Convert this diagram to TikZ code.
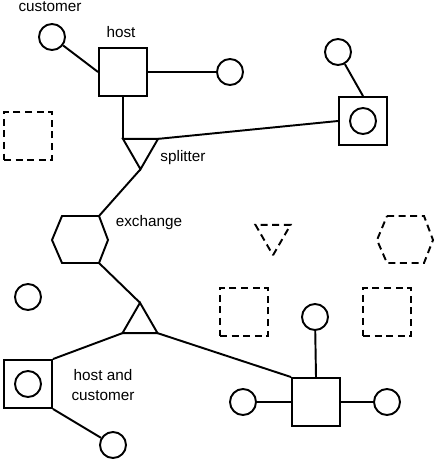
\documentclass[tikz,border=0pt]{standalone}
\usepackage{fontspec}
\setmainfont{Liberation Sans}
\usetikzlibrary{shapes.geometric}

\begin{document}
\begin{tikzpicture}[x=0.02cm, y=-0.02cm, line width=1.1pt,
  endpoint/.style={draw, circle, minimum size=0.52cm, inner sep=0pt},
  hostbox/.style={draw, rectangle, minimum size=0.96cm, inner sep=0pt},
  splitbox/.style={draw, regular polygon, regular polygon sides=3, minimum size=0.81cm, inner sep=0pt, outer sep=0pt},
  spare/.style={dash pattern=on 4pt off 2.6pt},
  lbl/.style={font=\fontsize{8.7}{11.3}\selectfont, align=center}
]
  \useasboundingbox (0,0) rectangle (438,462);

  % top host
  \node[hostbox] (host) at (123,72) {};
  \node[endpoint] (c1) at (52,37) {};
  \node[endpoint] (c2) at (230,72) {};
  \node[lbl] (lcust) at (50,7) {customer};
  \node[lbl] (lhost) at (121,32) {host};

  % host with customer on the right
  \node[hostbox] (hc1) at (363,121) {};
  \node[endpoint] (c3) at (363,121) {};
  \node[endpoint] (c4) at (338,52) {};

  % splitter
  \node[splitbox, shape border rotate=180] (split1) at (140.5,149) {};
  \node[lbl] (lsplit) at (183,158) {splitter};

  % exchange
  \coordinate (ex1) at (62,216);
  \coordinate (ex2) at (99,216);
  \coordinate (ex3) at (108,240);
  \coordinate (ex4) at (99,263);
  \coordinate (ex5) at (62,263);
  \coordinate (ex6) at (52,240);
  \draw (ex1) -- (ex2) -- (ex3) -- (ex4) -- (ex5) -- (ex6) -- cycle;
  \node[lbl] (lexch) at (149,223) {exchange};

  % lower splitter
  \node[splitbox] (split2) at (140,323) {};

  % host and customer (bottom left)
  \node[hostbox] (hc2) at (28,384) {};
  \node[endpoint] (c5) at (28,384) {};
  \node[endpoint] (c6) at (113,445) {};
  \node[endpoint] (c7) at (28,297) {};
  \node[lbl] (lhc) at (103,385) {host and\\customer};

  % bottom right host
  \node[hostbox] (host2) at (316,402) {};
  \node[endpoint] (c8) at (315,317) {};
  \node[endpoint] (c9) at (243,402) {};
  \node[endpoint] (c10) at (387,402) {};

  % unused places
  \node[hostbox, spare] (sp1) at (28,136) {};
  \node[hostbox, spare] (sp2) at (244,312) {};
  \node[hostbox, spare] (sp3) at (387,312) {};
  \node[splitbox, spare, shape border rotate=180] (sp4) at (273,235) {};
  \draw[spare] (387,216) -- (424,216) -- (433,240) -- (424,263) -- (387,263) -- (377,240) -- cycle;

  % links
  \draw (c1) -- (host.west);
  \draw (host.east) -- (c2);
  \draw (host.south) -- (host.south |- split1.corner 3);
  \draw (split1.corner 2) -- (hc1.west);
  \draw (c4) -- (hc1.north);
  \draw (split1.corner 1) -- (ex2);
  \draw (ex4) -- (split2.corner 1);
  \draw (split2.corner 2) -- (hc2.north east);
  \draw (hc2.south east) -- (c6);
  \draw (split2.corner 3) -- (host2.north west);
  \draw (c8) -- (host2.north);
  \draw (c9) -- (host2.west);
  \draw (host2.east) -- (c10);
\end{tikzpicture}
\end{document}
